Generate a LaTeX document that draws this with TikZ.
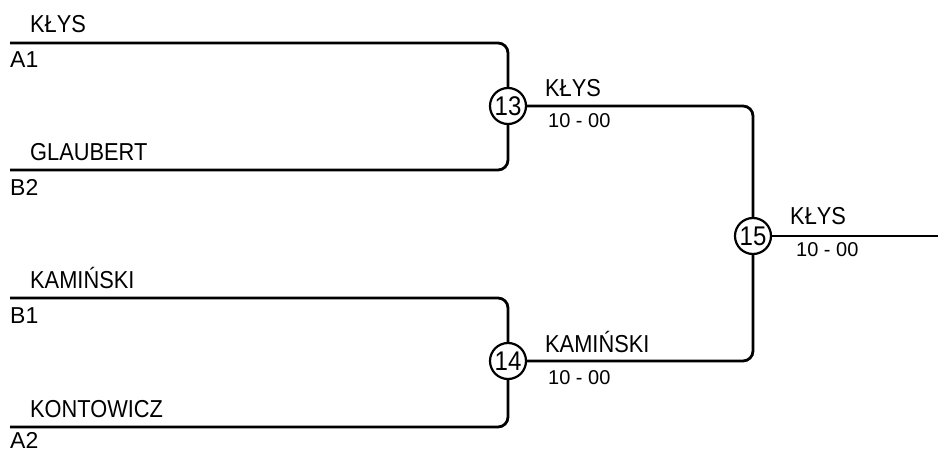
\documentclass[tikz,border=0pt]{standalone}
\usepackage{fontspec}
\setmainfont{Liberation Sans}
\newfontfamily\narrowsans[FakeStretch=0.89]{Liberation Sans}
\tikzset{
	match/.style={draw, circle, line width=2.2pt, inner sep=0pt, minimum size=36pt, font=\narrowsans\fontsize{27}{27}\selectfont},
	player/.style={anchor=base west, inner sep=0pt, font=\narrowsans\fontsize{24.5}{24.5}\selectfont},
	seed/.style={anchor=base west, inner sep=0pt, font=\fontsize{23}{23}\selectfont},
	score/.style={anchor=base west, inner sep=0pt, font=\fontsize{20}{20}\selectfont},
	wire/.style={line width=2.8pt, rounded corners=10pt}
}
\begin{document}
\begin{tikzpicture}[x=1pt,y=-1pt]
		\useasboundingbox (0,0) rectangle (938,452);

		\node [match] (m_13) at (508,106) {13};
		\node [match] (m_14) at (508,361) {14};
		\node [match] (m_15) at (753,236) {15};

		\coordinate (a_1) at (10,43);
		\coordinate (b_2) at (10,170);
		\coordinate (b_1) at (10,298);
		\coordinate (a_2) at (10,427);
		\coordinate (w) at (938,236);

		\draw [wire] (a_1)--(a_1-|m_13)--(m_13.north);
		\draw [wire] (b_2)--(b_2-|m_13)--(m_13.south);
		\draw [wire] (b_1)--(b_1-|m_14)--(m_14.north);
		\draw [wire] (a_2)--(a_2-|m_14)--(m_14.south);
		\draw [wire] (m_13.east)--(m_13-|m_15)--(m_15.north);
		\draw [wire] (m_14.east)--(m_14-|m_15)--(m_15.south);
		\draw [wire] (m_15.east)--(w);

		\node [player] (n_a1) at (30,33) {KŁYS};
		\node [seed] (s_a1) at (10,68) {A1};
		\node [player] (n_b2) at (30,160) {GLAUBERT};
		\node [seed] (s_b2) at (10,195) {B2};
		\node [player] (n_b1) at (30,288) {KAMIŃSKI};
		\node [seed] (s_b1) at (10,323) {B1};
		\node [player] (n_a2) at (30,417) {KONTOWICZ};
		\node [seed] (s_a2) at (10,448) {A2};

		\node [player] (n_13) at (545,97) {KŁYS};
		\node [score] (r_13) at (548,128) {10 - 00};
		\node [player] (n_14) at (545,352) {KAMIŃSKI};
		\node [score] (r_14) at (548,384) {10 - 00};
		\node [player] (n_15) at (790,224) {KŁYS};
		\node [score] (r_15) at (796,256) {10 - 00};

	\end{tikzpicture}
\end{document}
